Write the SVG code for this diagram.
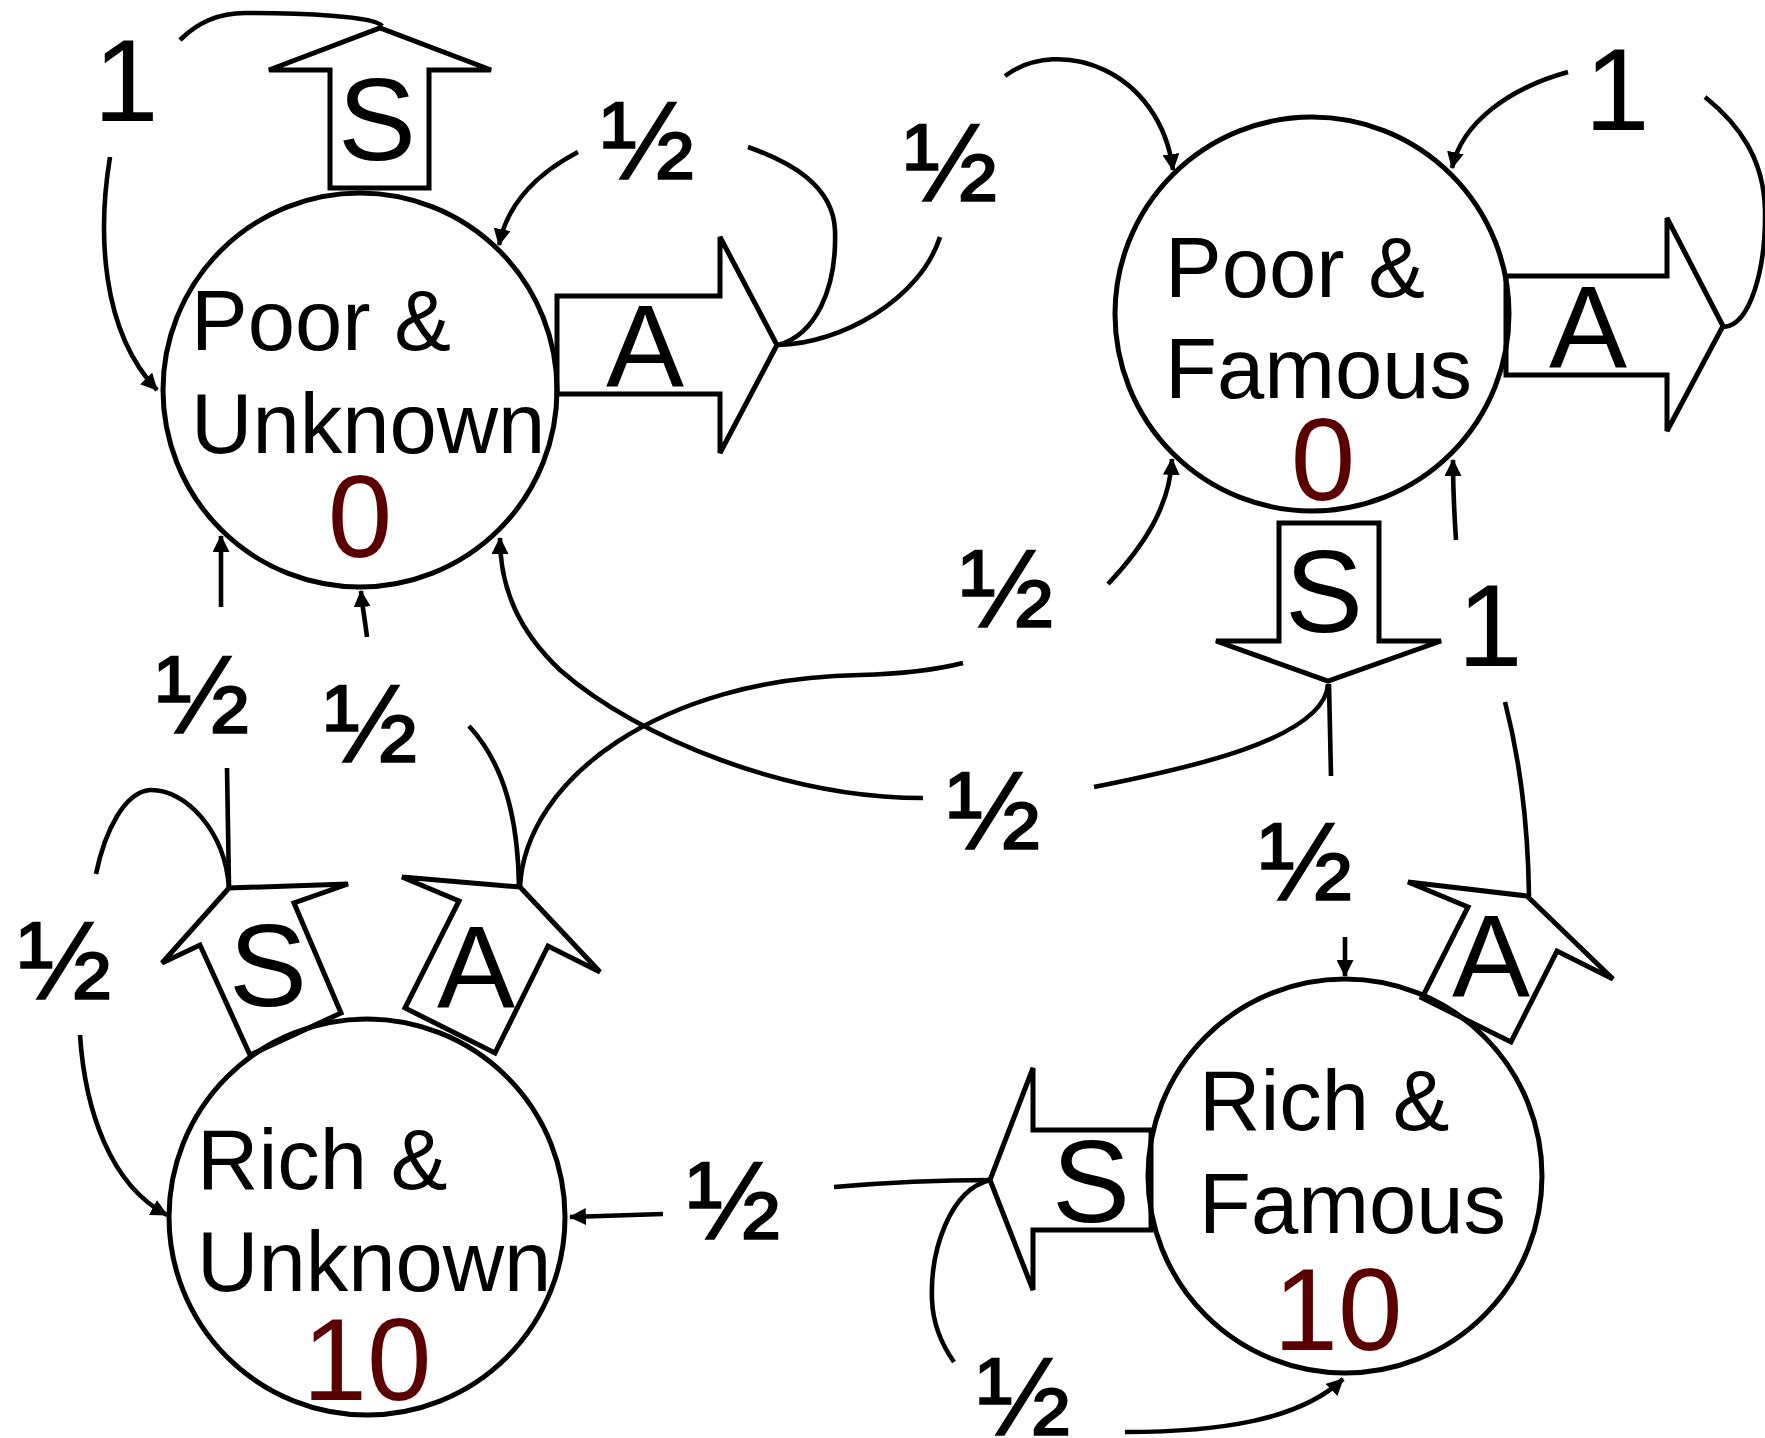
<svg xmlns="http://www.w3.org/2000/svg" width="1765" height="1438" viewBox="0 0 1765 1438">
  <style>
    .state { fill: none; stroke: #000; stroke-width: 5; }
    .act { fill: none; stroke: #000; stroke-width: 5; stroke-linejoin: miter; }
    .edge { fill: none; stroke: #000; stroke-width: 4.6; }
    .arr { marker-end: url(#head); }
    text { font-family: "Liberation Sans", Arial, sans-serif; fill: #000; }
    .name { font-size: 85px; }
    .reward { font-size: 116px; fill: #5a0000; text-anchor: middle; }
    .letter { font-size: 117px; text-anchor: middle; }
    .prob { font-size: 112px; stroke: #000; stroke-width: 1.6; }
  </style>
  <defs>
    <marker id="head" viewBox="0 0 16 16" refX="15" refY="8" markerWidth="17" markerHeight="17" markerUnits="userSpaceOnUse" orient="auto">
      <path d="M0,0 L16,8 L0,16 z" fill="#000"/>
    </marker>
  </defs>
  <rect width="1765" height="1438" fill="#fff"/>

  <!-- state: Poor & Unknown -->
  <g id="poor-unknown">
    <circle class="state" cx="360" cy="390" r="197"/>
    <text class="name" x="191" y="350">Poor &amp;</text>
    <text class="name" x="191" y="453">Unknown</text>
    <text class="reward" x="360" y="557">0</text>
    <polygon id="pu-save" class="act" points="330,188 330,70 269,70 380,28 491,70 429,70 429,188"/>
    <text class="letter" x="377" y="160">S</text>
    <polygon id="pu-adv" class="act" points="557,296 720,296 720,237 777,345 720,453 720,394 557,394"/>
    <text class="letter" x="645" y="387">A</text>
  </g>

  <!-- state: Poor & Famous -->
  <g id="poor-famous">
    <circle class="state" cx="1312" cy="314" r="197"/>
    <text class="name" x="1165" y="297">Poor &amp;</text>
    <text class="name" x="1165" y="398">Famous</text>
    <text class="reward" x="1323" y="500">0</text>
    <polygon id="pf-adv" class="act" points="1506,276 1667,276 1667,218 1723,326 1667,431 1667,375 1506,375"/>
    <text class="letter" x="1588" y="368">A</text>
    <polygon id="pf-save" class="act" points="1279,523 1379,523 1379,641 1441,641 1328,681 1216,641 1279,641"/>
    <text class="letter" x="1324" y="632">S</text>
  </g>

  <!-- state: Rich & Unknown -->
  <g id="rich-unknown">
    <circle class="state" cx="367" cy="1217" r="198"/>
    <text class="name" x="197" y="1189">Rich &amp;</text>
    <text class="name" x="197" y="1291">Unknown</text>
    <text class="reward" x="367" y="1400">10</text>
    <polygon id="ru-save" class="act" points="229,888 162,963 200,945 250,1055 341,1013 294,903 348,884"/>
    <text class="letter" x="268" y="1006">S</text>
    <polygon id="ru-adv" class="act" points="520,887 600,972 548,946 495,1053 405,1008 459,901 402,877"/>
    <text class="letter" x="476" y="1008">A</text>
  </g>

  <!-- state: Rich & Famous -->
  <g id="rich-famous">
    <circle class="state" cx="1345" cy="1176" r="197"/>
    <text class="name" x="1199" y="1130">Rich &amp;</text>
    <text class="name" x="1199" y="1233">Famous</text>
    <text class="reward" x="1338" y="1350">10</text>
    <polygon id="rf-adv" class="act" points="1527,896 1613,979 1557,951 1511,1042 1422,998 1468,907 1408,882"/>
    <text class="letter" x="1491" y="997">A</text>
    <polygon id="rf-save" class="act" points="1151,1130 1033,1130 1033,1068 990,1180 1033,1290 1033,1230 1151,1230"/>
    <text class="letter" x="1091" y="1222">S</text>
  </g>

  <!-- transitions -->
  <g id="transitions">
    <!-- Poor & Unknown, save: stays -->
    <path class="edge" d="M382,26 C375,16 300,13 245,13 C215,13 195,25 180,40"/>
    <path class="edge arr" d="M110,157 C98,230 100,330 157,390"/>
    <!-- Poor & Unknown, advertise: stays -->
    <path class="edge" d="M778,345 C815,335 837,290 835,230 C833,185 790,162 748,147"/>
    <path class="edge arr" d="M578,152 C540,172 508,200 499,245"/>
    <!-- Poor & Unknown, advertise: to Poor & Famous -->
    <path class="edge" d="M778,345 C840,344 920,300 940,237"/>
    <path class="edge arr" d="M1005,76 C1060,35 1160,70 1173,170"/>
    <!-- Poor & Famous, advertise: stays -->
    <path class="edge" d="M1724,327 C1750,325 1766,270 1765,210 C1764,160 1740,125 1705,97"/>
    <path class="edge arr" d="M1568,72 C1510,88 1462,122 1452,168"/>
    <!-- Poor & Famous, save: to Poor & Unknown -->
    <path class="edge" d="M1328,684 C1325,740 1180,770 1094,787"/>
    <path class="edge arr" d="M923,798 C790,798 640,740 560,670 C520,632 500,590 500,538"/>
    <!-- Poor & Famous, save: to Rich & Famous -->
    <path class="edge" d="M1329,684 L1331,776"/>
    <path class="edge arr" d="M1345,937 L1345,976"/>
    <!-- Rich & Famous, advertise: to Poor & Famous -->
    <path class="edge" d="M1529,896 C1528,820 1520,760 1505,702"/>
    <path class="edge arr" d="M1456,540 C1454,510 1453,485 1453,460"/>
    <!-- Rich & Famous, save: to Rich & Unknown -->
    <path class="edge" d="M990,1180 C930,1180 880,1183 834,1187"/>
    <path class="edge arr" d="M663,1214 L570,1217"/>
    <!-- Rich & Famous, save: stays -->
    <path class="edge" d="M990,1180 C950,1190 930,1250 932,1300 C933,1325 942,1345 954,1362"/>
    <path class="edge arr" d="M1125,1432 C1220,1432 1300,1420 1343,1379"/>
    <!-- Rich & Unknown, save: to Poor & Unknown -->
    <path class="edge" d="M229,888 L227,768"/>
    <path class="edge arr" d="M221,607 L221,536"/>
    <!-- Rich & Unknown, save: stays -->
    <path class="edge" d="M229,888 C225,830 185,789 150,790 C125,792 105,830 96,874"/>
    <path class="edge arr" d="M80,1035 C85,1110 110,1185 167,1215"/>
    <!-- Rich & Unknown, advertise: to Poor & Unknown -->
    <path class="edge" d="M519,887 C518,820 505,765 469,726"/>
    <path class="edge arr" d="M367,637 C365,620 362,605 361,591"/>
    <!-- Rich & Unknown, advertise: to Poor & Famous -->
    <path class="edge" d="M520,887 C525,780 660,678 860,675 C900,674 935,670 963,663"/>
    <path class="edge arr" d="M1108,584 C1145,545 1170,505 1172,459"/>
  </g>

  <!-- transition probabilities -->
  <g id="probabilities">
    <text class="prob" x="601" y="179">½</text>
    <text class="prob" x="904" y="201">½</text>
    <text class="prob" x="960" y="627">½</text>
    <text class="prob" x="947" y="849">½</text>
    <text class="prob" x="1259" y="900">½</text>
    <text class="prob" x="156" y="733">½</text>
    <text class="prob" x="324" y="762">½</text>
    <text class="prob" x="18" y="999">½</text>
    <text class="prob" x="687" y="1239">½</text>
    <text class="prob" x="977" y="1435">½</text>
    <text class="letter" x="126" y="121">1</text>
    <text class="letter" x="1617" y="130">1</text>
    <text class="letter" x="1490" y="666">1</text>
  </g>
</svg>
